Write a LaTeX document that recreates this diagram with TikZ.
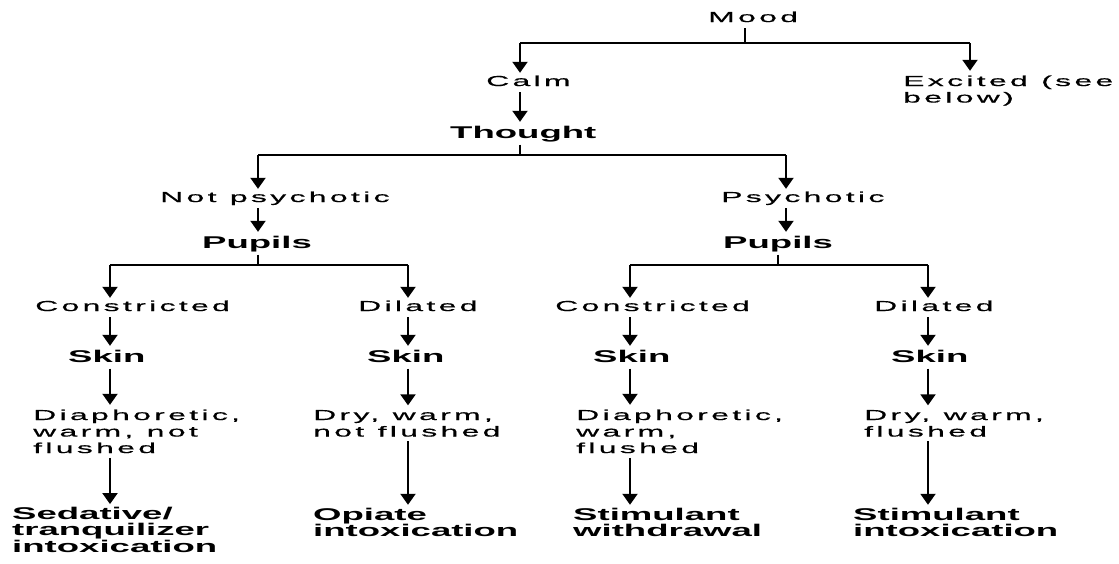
\documentclass[tikz,border=0pt]{standalone}
\usepackage{fontspec}
\usepackage{tikz}
\usetikzlibrary{arrows.meta,calc,positioning}
\newfontfamily\regfont[FakeStretch=2.2,FakeBold=0.6,LetterSpace=23,WordSpace=1.1]{Liberation Sans}
\newfontfamily\headfont[FakeStretch=2.15]{Liberation Sans}

\begin{document}
\begin{tikzpicture}[x=1pt, y=-1pt,
    lbl/.style={inner xsep=0pt, inner ysep=3pt, anchor=base west,
      font=\regfont\fontsize{14.5}{16.5}\selectfont, text height=10pt, text depth=3pt},
    lbl lines/.style={lbl, inner ysep=4.5pt, text height=, text depth=, align=left},
    head/.style={inner xsep=0pt, inner ysep=3pt, anchor=base west,
      font=\headfont\bfseries\fontsize{17}{16.2}\selectfont, text height=13pt, text depth=3.5pt},
    head lines/.style={head, text height=, text depth=, align=left},
    fork/.style={line width=1.3pt},
    arr/.style={line width=2pt, -{Triangle[width=15pt,length=11pt]}}]
    \useasboundingbox (0,0) rectangle (1119,563);

    % Mood and its two branches (multi-line nodes sit on their last baseline)
    \node[lbl] (mood) at (708,22) {Mood};
    \node[lbl] (calm) at (486,86) {Calm};
    \node[lbl lines] (excited) at (903,102.5) {Excited (see\\below)};
    \node[head] (thought) at (450,138) {Thought};

    % Thought branches
    \node[lbl] (notpsy) at (160,202) {Not psychotic};
    \node[lbl] (psy) at (721,202) {Psychotic};
    \node[head] (pupilsL) at (202,248) {Pupils};
    \node[head] (pupilsR) at (723,248) {Pupils};

    % Pupils branches
    \node[lbl] (conL) at (35,311) {Constricted};
    \node[lbl] (dilL) at (358,311) {Dilated};
    \node[lbl] (conR) at (555,311) {Constricted};
    \node[lbl] (dilR) at (874,311) {Dilated};

    \node[head] (skin1) at (68,362) {Skin};
    \node[head] (skin2) at (367,362) {Skin};
    \node[head] (skin3) at (593,362) {Skin};
    \node[head] (skin4) at (891,362) {Skin};

    \node[lbl lines] (desc1) at (33,453) {Diaphoretic,\\warm, not\\flushed};
    \node[lbl lines] (desc2) at (313,436.5) {Dry, warm,\\not flushed};
    \node[lbl lines] (desc3) at (576,453) {Diaphoretic,\\warm,\\flushed};
    \node[lbl lines] (desc4) at (864,436.5) {Dry, warm,\\flushed};

    \node[head lines] (res1) at (12,552) {Sedative/\\tranquilizer\\intoxication};
    \node[head lines] (res2) at (313,536.5) {Opiate\\intoxication};
    \node[head lines] (res3) at (573,536.5) {Stimulant\\withdrawal};
    \node[head lines] (res4) at (853,536.5) {Stimulant\\intoxication};

    % Fork points
    \coordinate (m0) at (745,43);
    \coordinate (m1) at (520,43);
    \coordinate (m2) at (970,43);
    \coordinate (t0) at (520,155);
    \coordinate (t1) at (258,155);
    \coordinate (t2) at (786,155);
    \coordinate (pL0) at (258,265);
    \coordinate (c1) at (110,265);
    \coordinate (c2) at (408,265);
    \coordinate (pR0) at (778,265);
    \coordinate (c3) at (630,265);
    \coordinate (c4) at (928,265);

    % Mood level
    \draw[fork] (mood.south -| m0) -- (m0);
    \draw[fork] (m1) -- (m2);
    \draw[arr] (m1) -- (calm.north -| m1);
    \draw[arr] (m2) -- (excited.north -| m2);
    \draw[arr] (calm.south -| m1) -- (thought.north -| m1);

    % Thought level
    \draw[fork] (thought.south -| t0) -- (t0);
    \draw[fork] (t1) -- (t2);
    \draw[arr] (t1) -- (notpsy.north -| t1);
    \draw[arr] (t2) -- (psy.north -| t2);
    \draw[arr] (notpsy.south -| t1) -- (pupilsL.north -| t1);
    \draw[arr] (psy.south -| t2) -- (pupilsR.north -| t2);

    % Pupils level
    \draw[fork] (pupilsL.south -| pL0) -- (pL0);
    \draw[fork] (c1) -- (c2);
    \draw[fork] (pupilsR.south -| pR0) -- (pR0);
    \draw[fork] (c3) -- (c4);
    \draw[arr] (c1) -- (conL.north -| c1);
    \draw[arr] (c2) -- (dilL.north -| c2);
    \draw[arr] (c3) -- (conR.north -| c3);
    \draw[arr] (c4) -- (dilR.north -| c4);

    % Skin level
    \draw[arr] (conL.south -| c1) -- (skin1.north -| c1);
    \draw[arr] (dilL.south -| c2) -- (skin2.north -| c2);
    \draw[arr] (conR.south -| c3) -- (skin3.north -| c3);
    \draw[arr] (dilR.south -| c4) -- (skin4.north -| c4);
    \draw[arr] (skin1.south -| c1) -- (desc1.north -| c1);
    \draw[arr] (skin2.south -| c2) -- (desc2.north -| c2);
    \draw[arr] (skin3.south -| c3) -- (desc3.north -| c3);
    \draw[arr] (skin4.south -| c4) -- (desc4.north -| c4);

    % Diagnoses
    \draw[arr] (desc1.south -| c1) -- (res1.north -| c1);
    \draw[arr] (desc2.south -| c2) -- (res2.north -| c2);
    \draw[arr] (desc3.south -| c3) -- (res3.north -| c3);
    \draw[arr] (desc4.south -| c4) -- (res4.north -| c4);
\end{tikzpicture}
\end{document}
